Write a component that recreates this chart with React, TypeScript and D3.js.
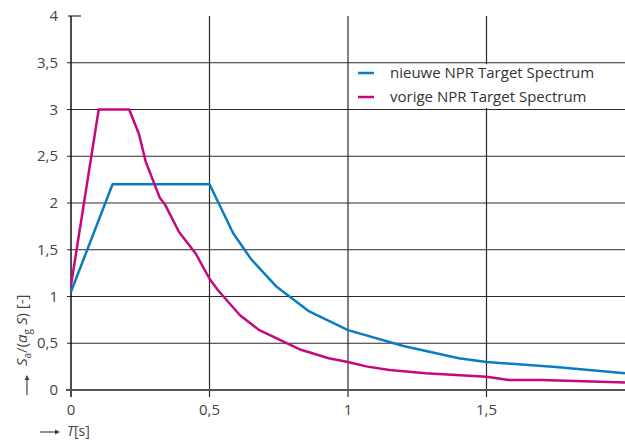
import * as d3 from "d3";
import React from "react";

// spectrum data
const nieuweT = [0, 0.15, 0.5, 0.585, 0.65, 0.74, 0.86, 1.0, 1.2, 1.4, 1.5, 1.75, 2.0];
const nieuweSa = [1.05, 2.2, 2.2, 1.68, 1.4, 1.11, 0.84, 0.64, 0.47, 0.34, 0.3, 0.245, 0.18];

const vorigeT = [0, 0.1, 0.21, 0.245, 0.27, 0.32, 0.34, 0.39, 0.45, 0.5, 0.53, 0.61, 0.68, 0.83, 0.93, 1.0, 1.07, 1.15, 1.28, 1.5, 1.58, 1.7, 2.0];
const vorigeSa = [1.12, 3.0, 3.0, 2.74, 2.44, 2.06, 1.98, 1.69, 1.46, 1.19, 1.07, 0.8, 0.64, 0.43, 0.34, 0.3, 0.25, 0.215, 0.178, 0.142, 0.107, 0.107, 0.08];

const xTicks = [0, 0.5, 1, 1.5];
const yTicks = [0, 0.5, 1, 1.5, 2, 2.5, 3, 3.5, 4];
const legendLabels = ["nieuwe NPR Target Spectrum", "vorige NPR Target Spectrum"];
const colours = ["#0a7cc1", "#c5087b"];

const margins = { left: 71, right: 0, top: 16, bottom: 50 };
const width = 625;
const height = 440;
const font = "'Open Sans', 'DejaVu Sans', sans-serif";
const fmt = (v: number) => String(v).replace(".", ",");

export default function App() {
  const x = d3.scaleLinear().domain([0, 2]).range([margins.left, width - margins.right]);
  const y = d3.scaleLinear().domain([0, 4]).range([height - margins.bottom, margins.top]);

  const line = d3.line<[number, number]>().x(d => x(d[0])).y(d => y(d[1]));
  const series = [
    nieuweT.map((t, i) => [t, nieuweSa[i]] as [number, number]),
    vorigeT.map((t, i) => [t, vorigeSa[i]] as [number, number]),
  ];

  const y0 = y(0);
  const gridColour = "#2a2a2a";

  return (
    <svg width={width} height={height} style={{ position: "absolute", left: 0, top: 0, background: "#fff" }}>
      {/* horizontal grid */}
      {yTicks.filter(v => v > 0 && v < 4).map(v => (
        <line key={`h${v}`} x1={x(0) - 4} x2={width} y1={y(v)} y2={y(v)} stroke={gridColour} strokeWidth={1.2} />
      ))}
      <line x1={x(0) - 3} x2={x(0) + 10} y1={y(4)} y2={y(4)} stroke={gridColour} strokeWidth={1.2} />
      {/* vertical grid */}
      {xTicks.filter(v => v > 0).map(v => (
        <line key={`v${v}`} x1={x(v)} x2={x(v)} y1={y(4)} y2={y0 + 7} stroke={gridColour} strokeWidth={1.2} />
      ))}
      {/* legend box */}
      <rect x={352} y={y(3.5) + 1.5} width={width - 352} height={y(3) - y(3.5) - 3} fill="#fff" />
      {legendLabels.map((label, i) => (
        <g key={label} transform={`translate(358, ${73 + i * 24})`}>
          <line x1={0} x2={16} y1={0} y2={0} stroke={colours[i]} strokeWidth={2.5} />
          <text x={32} y={5} fontFamily={font} fontSize={15} fill="#333">{label}</text>
        </g>
      ))}
      {/* axes */}
      <line x1={x(0)} x2={x(0)} y1={y(4)} y2={y0 + 7} stroke="#111" strokeWidth={1.5} />
      <line x1={x(0) - 5} x2={width} y1={y0} y2={y0} stroke="#555" strokeWidth={2.2} />
      {yTicks.map(v => (
        <text key={`yl${v}`} x={58} y={y(v) + 5} textAnchor="end" fontFamily={font} fontSize={15} fill="#444">{fmt(v)}</text>
      ))}
      {xTicks.map(v => (
        <text key={`xl${v}`} x={x(v)} y={y0 + 25} textAnchor="middle" fontFamily={font} fontSize={15} fill="#444">{fmt(v)}</text>
      ))}
      {/* curves */}
      {series.map((s, i) => (
        <path key={i} d={line(s) || ""} fill="none" stroke={colours[i]} strokeWidth={2.5} strokeLinejoin="round" />
      ))}
      {/* x label */}
      <line x1={40} x2={55} y1={432} y2={432} stroke="#444" strokeWidth={1.2} />
      <path d="M55,429.5 L60,432 L55,434.5 Z" fill="#444" />
      <text x={67} y={436} fontFamily={font} fontSize={14} fill="#444">
        <tspan fontStyle="italic">T</tspan>[s]
      </text>
      {/* y label */}
      <line x1={27} x2={27} y1={395} y2={380} stroke="#444" strokeWidth={1.2} />
      <path d="M24.5,380 L27,375 L29.5,380 Z" fill="#444" />
      <text transform="translate(27, 366) rotate(-90)" fontFamily={font} fontSize={15} fill="#444">
        <tspan fontStyle="italic">S</tspan>
        <tspan fontSize={10} dy={4}>a</tspan>
        <tspan dy={-4}>/(</tspan>
        <tspan fontStyle="italic">a</tspan>
        <tspan fontSize={10} dy={4}>g</tspan>
        <tspan dy={-4} fontStyle="italic"> S</tspan>
        <tspan>) [-]</tspan>
      </text>
    </svg>
  );
}
